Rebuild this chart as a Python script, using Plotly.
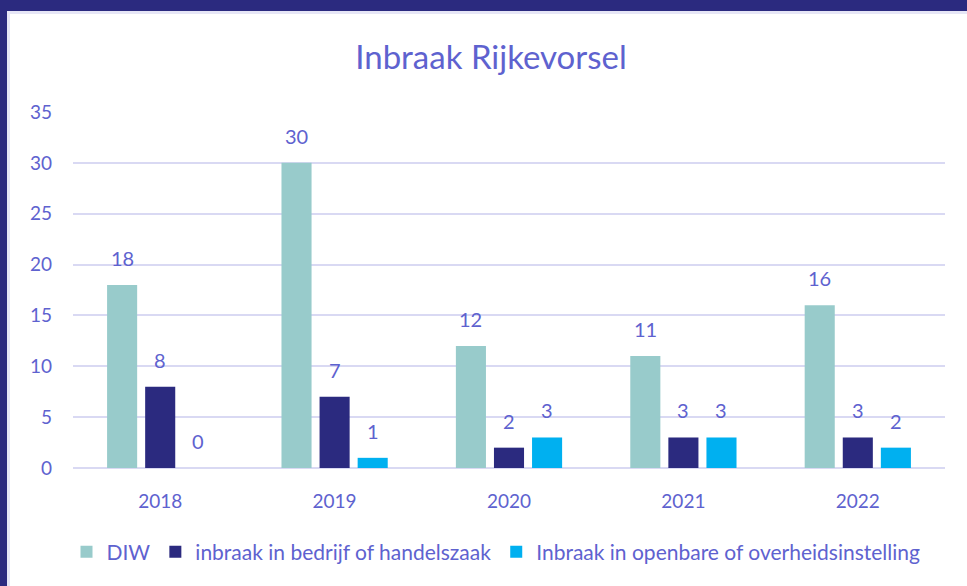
import plotly.graph_objects as go

years = ["2018", "2019", "2020", "2021", "2022"]
diw = [18, 30, 12, 11, 16]
bedrijf = [8, 7, 2, 3, 3]
openbaar = [0, 1, 3, 3, 2]
series_names = ["DIW", "inbraak in bedrijf of handelszaak",
                "Inbraak in openbare of overheidsinstelling"]
series_values = [diw, bedrijf, openbaar]
series_colors = ["#98CBCB", "#2B2A7F", "#00B0F0"]

TXT = "#5E62CF"
GRID = "#D9D9F3"
FRAME = "#2B2A7F"
FONT = "Lato, 'Open Sans', sans-serif"

W, H = 967, 586
ML, MR, MT, MB = 73, 22, 112, 118
PW, PH = W - ML - MR, H - MT - MB

xpos = list(range(len(years)))

fig = go.Figure()
for name, vals, col in zip(series_names, series_values, series_colors):
    fig.add_trace(go.Bar(x=xpos, y=vals, name=name, marker_color=col,
                         marker_line_width=0))

# data labels above bars
cat_w = PW / len(years)
slot = cat_w * (1 - 0.345) / 3
ann = []
for i, vals in enumerate(series_values):
    for xp, v in zip(xpos, vals):
        ann.append(dict(x=xp, y=v, xref="x", yref="y", text=str(v),
                        showarrow=False, xshift=(i - 1) * slot, yshift=13,
                        yanchor="bottom", font=dict(size=20, color=TXT, family=FONT)))

def px_x(p):
    return (p - ML) / PW

def px_y(p):
    return (H - MB - p) / PH

shapes = [
    dict(type="rect", xref="paper", yref="paper", x0=px_x(7), x1=px_x(W),
         y0=px_y(14), y1=px_y(11), fillcolor="#E6E6F6", line_width=0, layer="above"),
    dict(type="rect", xref="paper", yref="paper", x0=px_x(7), x1=px_x(10),
         y0=px_y(H), y1=px_y(11), fillcolor="#E6E6F6", line_width=0, layer="above"),
    dict(type="rect", xref="paper", yref="paper", x0=px_x(0), x1=px_x(W),
         y0=px_y(11), y1=px_y(0), fillcolor=FRAME, line_width=0, layer="above"),
    dict(type="rect", xref="paper", yref="paper", x0=px_x(0), x1=px_x(7),
         y0=px_y(H), y1=px_y(0), fillcolor=FRAME, line_width=0, layer="above"),
]

fig.update_layout(
    width=W, height=H,
    margin=dict(l=ML, r=MR, t=MT, b=MB),
    paper_bgcolor="white", plot_bgcolor="white",
    barmode="group", bargap=0.345, bargroupgap=0.21,
    title=dict(text="Inbraak Rijkevorsel", x=px_x(491), xanchor="center",
               xref="paper", y=1 - 57 / H, yanchor="middle",
               font=dict(size=33, color=TXT, family=FONT)),
    font=dict(family=FONT, color=TXT),
    xaxis=dict(range=[-0.5, len(years) - 0.5], tickvals=xpos, ticktext=years,
               showgrid=False, showline=False, zeroline=False, ticks="",
               tickfont=dict(size=19, color=TXT, family=FONT),
               ticklabelstandoff=20),
    yaxis=dict(range=[0, 35], dtick=5, showgrid=True, gridcolor=GRID, gridwidth=2,
               zeroline=True, zerolinecolor=GRID, zerolinewidth=2, showline=False,
               tickfont=dict(size=19, color=TXT, family=FONT),
               ticklabelstandoff=20),
    legend=dict(orientation="h", x=px_x(496), xanchor="center",
                y=px_y(552), yanchor="middle",
                font=dict(size=21, color=TXT, family=FONT),
                itemwidth=30, tracegroupgap=0),
    annotations=ann,
    shapes=shapes,
)

fig.write_html("out.html", config={"displayModeBar": False},
               post_script="document.body.style.margin='0';")
